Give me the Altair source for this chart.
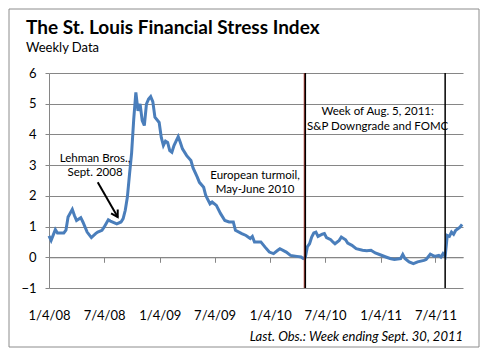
import altair as alt
import pandas as pd

START = "2008-01-04"
weeks = [0, 1, 3, 4, 7, 8, 9, 11, 12, 13, 15, 16, 18, 20, 22, 23, 25, 26, 28, 29,
         32, 34, 35, 36, 37, 38, 39, 40, 41, 42, 43, 44, 45, 46, 47, 48, 49, 50, 52, 53,
         54, 55, 56, 57, 58, 59, 61, 62, 63, 65, 67, 68, 70, 71, 73, 74, 76, 77, 79, 81,
         83, 85, 87, 88, 91, 93, 95, 96, 97, 100, 102, 104, 106, 108, 109, 112, 114, 117, 119, 120,
         121, 122, 123, 124, 125, 126, 127, 129, 130, 131, 133, 134, 135, 137, 138, 140, 141, 143, 145, 148,
         150, 152, 154, 156, 159, 161, 163, 166, 167, 168, 170, 172, 174, 177, 178, 180, 182, 184, 185, 186,
         187, 188, 189, 190, 191, 192, 193, 194, 195]
values = [0.70, 0.55, 0.90, 0.79, 0.79, 0.88, 1.31, 1.56, 1.36, 1.20, 1.29, 1.15, 0.82, 0.64, 0.77, 0.82, 0.88, 0.98, 1.22, 1.18,
          1.09, 1.15, 1.26, 1.53, 1.96, 2.70, 3.40, 4.50, 5.37, 4.77, 4.99, 4.45, 4.29, 4.99, 5.15, 5.23, 5.07, 4.56, 4.39, 3.90,
          3.64, 3.78, 3.74, 3.47, 3.42, 3.64, 3.93, 3.74, 3.53, 3.31, 3.15, 2.91, 2.61, 2.44, 2.28, 2.01, 1.74, 1.80, 1.69, 1.42,
          1.20, 1.15, 1.15, 0.88, 0.77, 0.71, 0.61, 0.68, 0.50, 0.50, 0.33, 0.17, 0.12, 0.23, 0.28, 0.17, 0.06, 0.03, 0.01, -0.04,
          0.00, 0.35, 0.44, 0.66, 0.79, 0.82, 0.68, 0.75, 0.77, 0.64, 0.57, 0.50, 0.44, 0.55, 0.66, 0.57, 0.46, 0.39, 0.28, 0.23,
          0.21, 0.23, 0.14, 0.09, 0.01, -0.04, -0.07, -0.04, 0.09, -0.04, -0.15, -0.21, -0.15, -0.10, -0.07, 0.10, 0.03, 0.06, 0.01, 0.12,
          0.03, 0.71, 0.68, 0.82, 0.75, 0.88, 0.93, 0.98, 1.07]
assert len(weeks) == len(values)

event_dates = ["2010-04-30", "2011-08-05"]

note_text = ["Lehman Bros.,", "Sept. 2008", "European turmoil,", "May-June 2010",
             "Week of Aug. 5, 2011:", "S&P Downgrade and FOMC"]
note_dates = ["2008-06-04", "2008-06-04", "2009-11-15", "2009-11-15", "2010-12-25", "2010-12-25"]
note_values = [3.21, 2.76, 2.66, 2.18, 4.72, 4.23]

arrow_dates = ["2008-06-13", "2008-08-18"]
arrow_values = [2.44, 1.31]

tick_dates = [(2008, 1, 4), (2008, 7, 4), (2009, 1, 4), (2009, 7, 4),
              (2010, 1, 4), (2010, 7, 4), (2011, 1, 4), (2011, 7, 4)]
y_ticks = [-1, 0, 1, 2, 3, 4, 5, 6]

W, H = 414, 215
FONT = "Lato"
GRID = "#868686"

dates = [(pd.Timestamp(START) + pd.Timedelta(weeks=w)).strftime("%Y-%m-%d") for w in weeks]
df = pd.DataFrame({"date": dates, "value": values})

xscale = alt.Scale(type="utc", nice=False,
                   domain=[alt.DateTime(year=2008, month=1, date=4, utc=True),
                           alt.DateTime(year=2011, month=10, date=3, utc=True)])
yscale = alt.Scale(domain=[-1, 6], nice=False)

xaxis = alt.Axis(values=[alt.DateTime(year=y, month=m, date=d, utc=True) for y, m, d in tick_dates],
                 labelExpr="utcFormat(datum.value, '%-m/%-d/%y')",
                 offset=-(H / 7.0), tickSize=5, tickColor=GRID, domainColor=GRID,
                 labelPadding=47, labelFontSize=13, labelFont=FONT, labelColor="black",
                 grid=False, title=None, labelFlush=False, labelOverlap=False)
yaxis = alt.Axis(values=y_ticks, grid=True, gridColor=GRID, domainColor=GRID, tickColor=GRID,
                 tickSize=4, labelPadding=9, labelFontSize=13, labelFont=FONT,
                 labelColor="black", title=None, labelOverlap=False, labelFlush=False)

frame = alt.Chart(pd.DataFrame({"a": [0]})).mark_rect(
    fill=None, stroke="#8c8c8c", strokeWidth=1).encode(
    x=alt.value(-40), x2=alt.value(430), y=alt.value(-64), y2=alt.value(274))

line = alt.Chart(df).mark_line(color="#4a7ebb", strokeWidth=3).encode(
    x=alt.X("date:T", scale=xscale, axis=xaxis),
    y=alt.Y("value:Q", scale=yscale, axis=yaxis))

ev = pd.DataFrame({"date": event_dates})
red = alt.Chart(ev.iloc[:1]).mark_rule(color="#b03a2e", strokeWidth=1.2, xOffset=-1).encode(
    x="date:T", y=alt.value(0), y2=alt.value(H))
rules = alt.Chart(ev).mark_rule(color="black", strokeWidth=1.5).encode(
    x="date:T", y=alt.value(0), y2=alt.value(H))

notes = alt.Chart(pd.DataFrame({"t": note_text, "date": note_dates, "value": note_values})).mark_text(
    font=FONT, fontSize=11.5, align="center", baseline="middle", color="black").encode(
    x="date:T", y=alt.Y("value:Q", axis=yaxis), text="t:N")

adf = pd.DataFrame({"date": arrow_dates, "value": arrow_values})
arrow = alt.Chart(adf).mark_line(color="black", strokeWidth=2).encode(
    x="date:T", y=alt.Y("value:Q", axis=yaxis))
head = alt.Chart(adf.iloc[1:]).mark_point(
    shape="M -0.7 -1.2 L 0 0 L 0.7 -1.2", filled=False, stroke="black", strokeWidth=2,
    size=120, angle=330, opacity=1).encode(x="date:T", y=alt.Y("value:Q", axis=yaxis))

title = alt.Chart(pd.DataFrame({"t": ["The St. Louis Financial Stress Index"]})).mark_text(
    font=FONT, fontSize=19, fontWeight="bold", align="left", baseline="alphabetic", color="black").encode(
    x=alt.value(-23), y=alt.value(-39), text="t:N")
subtitle = alt.Chart(pd.DataFrame({"t": ["Weekly Data"]})).mark_text(
    font=FONT, fontSize=13, align="left", baseline="alphabetic", color="black").encode(
    x=alt.value(-23), y=alt.value(-21), text="t:N")
footer = alt.Chart(pd.DataFrame({"t": ["Last. Obs.:  Week ending Sept. 30, 2011"]})).mark_text(
    font=FONT, fontSize=13, fontStyle="italic", align="right", baseline="alphabetic", color="black").encode(
    x=alt.value(W), y=alt.value(268), text="t:N")

chart = alt.layer(frame, line, red, rules, notes, arrow, head, title, subtitle, footer).properties(
    width=W, height=H,
    autosize=alt.AutoSizeParams(type="none"),
    padding={"left": 41, "top": 65, "right": 17, "bottom": 60},
    background="white",
).configure_view(strokeWidth=0)

chart.save("out.html", embed_options={"renderer": "svg", "actions": False})
